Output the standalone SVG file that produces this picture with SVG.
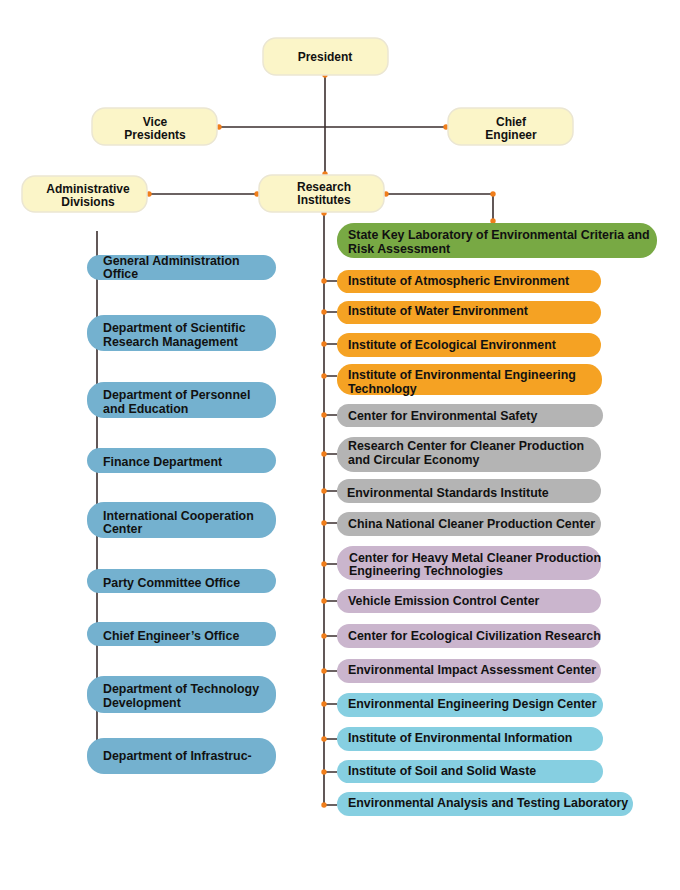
<svg xmlns="http://www.w3.org/2000/svg" width="680" height="890" viewBox="0 0 680 890">
<style>
.top{fill:#fbf5c8;stroke:#ebe6d2;stroke-width:1.5}
.t{font-family:"Liberation Sans",Arial,sans-serif;font-weight:bold;font-size:12.4px;fill:#111}
.tc{font-family:"Liberation Sans",Arial,sans-serif;font-weight:bold;font-size:12px;fill:#111;text-anchor:middle}
.blue{fill:#74b1cf}
.green{fill:#78a944}
.orange{fill:#f5a223}
.gray{fill:#b4b4b4}
.purple{fill:#cab5cd}
.lblue{fill:#86cfe1}
.ln{stroke:#3b2f2f;stroke-width:1.6;fill:none}
.dot{fill:#f07e1b}
</style>
<rect width="680" height="890" fill="#fff"/>
<g id="connectors">
<path class="ln" d="M325 75V174M219 127H446M149 194H257M386 194H493V222M324 213V805M97 231V740"/>
<path class="ln" d="M324 281H337M324 312H337M324 344H337M324 376H337M324 415H337M324 454H337M324 491H337M324 523H337M324 564H337M324 601H337M324 636H337M324 671H337M324 704H337M324 739H337M324 772H337M324 805H337"/>
<g class="dot">
<circle cx="325" cy="75" r="2.7"/><circle cx="325" cy="174" r="2.7"/>
<circle cx="219" cy="127" r="2.7"/><circle cx="446" cy="127" r="2.7"/>
<circle cx="149" cy="194" r="2.7"/><circle cx="257" cy="194" r="2.7"/>
<circle cx="386" cy="194" r="2.7"/><circle cx="493" cy="194" r="2.7"/>
<circle cx="493" cy="221" r="2.7"/><circle cx="324" cy="213" r="2.7"/>
<circle cx="324" cy="281" r="2.7"/><circle cx="324" cy="312" r="2.7"/><circle cx="324" cy="344" r="2.7"/><circle cx="324" cy="376" r="2.7"/>
<circle cx="324" cy="415" r="2.7"/><circle cx="324" cy="454" r="2.7"/><circle cx="324" cy="491" r="2.7"/><circle cx="324" cy="523" r="2.7"/>
<circle cx="324" cy="564" r="2.7"/><circle cx="324" cy="601" r="2.7"/><circle cx="324" cy="636" r="2.7"/><circle cx="324" cy="671" r="2.7"/>
<circle cx="324" cy="704" r="2.7"/><circle cx="324" cy="739" r="2.7"/><circle cx="324" cy="772" r="2.7"/><circle cx="324" cy="805" r="2.7"/>
</g>
</g>
<g id="president"><rect class="top" x="263" y="38" width="125" height="37" rx="13"/><text class="tc" x="325" y="61">President</text></g>
<g id="vice-presidents"><rect class="top" x="92" y="108" width="125" height="37" rx="13"/><text class="tc" x="155" y="126">Vice</text><text class="tc" x="155" y="138.5">Presidents</text></g>
<g id="chief-engineer"><rect class="top" x="448" y="108" width="125" height="37" rx="13"/><text class="tc" x="511" y="126">Chief</text><text class="tc" x="511" y="138.5">Engineer</text></g>
<g id="administrative-divisions"><rect class="top" x="22" y="176" width="125" height="36" rx="13"/><text class="tc" x="88" y="192.5">Administrative</text><text class="tc" x="88" y="206">Divisions</text></g>
<g id="research-institutes"><rect class="top" x="259" y="175" width="125" height="37" rx="13"/><text class="tc" x="324" y="191">Research</text><text class="tc" x="324" y="204">Institutes</text></g>

<g id="general-administration-office"><rect class="blue" x="87" y="255" width="189" height="25" rx="12.5"/><text class="t" x="103" y="265">General Administration</text><text class="t" x="103" y="278">Office</text></g>
<g id="dept-scientific-research"><rect class="blue" x="87" y="315" width="189" height="36" rx="17"/><text class="t" x="103" y="332">Department of Scientific</text><text class="t" x="103" y="346">Research Management</text></g>
<g id="dept-personnel"><rect class="blue" x="87" y="382" width="189" height="36" rx="17"/><text class="t" x="103" y="399">Department of Personnel</text><text class="t" x="103" y="413">and Education</text></g>
<g id="finance-department"><rect class="blue" x="87" y="448" width="189" height="25" rx="12.5"/><text class="t" x="103" y="466">Finance Department</text></g>
<g id="international-cooperation"><rect class="blue" x="87" y="502" width="189" height="36" rx="17"/><text class="t" x="103" y="520">International Cooperation</text><text class="t" x="103" y="533">Center</text></g>
<g id="party-committee-office"><rect class="blue" x="87" y="569" width="189" height="24" rx="12"/><text class="t" x="103" y="587">Party Committee Office</text></g>
<g id="chief-engineers-office"><rect class="blue" x="87" y="622" width="189" height="24" rx="12"/><text class="t" x="103" y="640">Chief Engineer’s Office</text></g>
<g id="dept-technology-development"><rect class="blue" x="87" y="676" width="189" height="37" rx="17"/><text class="t" x="103" y="693">Department of Technology</text><text class="t" x="103" y="707">Development</text></g>
<g id="dept-infrastructure"><rect class="blue" x="87" y="738" width="189" height="36" rx="17"/><text class="t" x="103" y="760">Department of Infrastruc-</text></g>

<g id="state-key-lab"><rect class="green" x="337" y="223" width="320" height="35" rx="17"/><text class="t" x="348" y="239">State Key Laboratory of Environmental Criteria and</text><text class="t" x="348" y="253">Risk Assessment</text></g>
<g id="inst-atmospheric"><rect class="orange" x="337" y="270" width="264" height="23" rx="11.5"/><text class="t" x="348" y="285">Institute of Atmospheric Environment</text></g>
<g id="inst-water"><rect class="orange" x="337" y="301" width="264" height="23" rx="11.5"/><text class="t" x="348" y="315">Institute of Water Environment</text></g>
<g id="inst-ecological"><rect class="orange" x="337" y="333" width="264" height="24" rx="12"/><text class="t" x="348" y="349">Institute of Ecological Environment</text></g>
<g id="inst-env-eng-tech"><rect class="orange" x="337" y="364" width="265" height="31" rx="15"/><text class="t" x="348" y="379">Institute of Environmental Engineering</text><text class="t" x="348" y="393">Technology</text></g>
<g id="center-env-safety"><rect class="gray" x="337" y="404" width="266" height="23" rx="11.5"/><text class="t" x="348" y="420">Center for Environmental Safety</text></g>
<g id="research-center-cleaner"><rect class="gray" x="337" y="437" width="264" height="35" rx="17"/><text class="t" x="348" y="450">Research Center for Cleaner Production</text><text class="t" x="348" y="464">and Circular Economy</text></g>
<g id="env-standards"><rect class="gray" x="337" y="479" width="264" height="24" rx="12"/><text class="t" x="347" y="497">Environmental Standards Institute</text></g>
<g id="china-national-cleaner"><rect class="gray" x="337" y="512" width="264" height="24" rx="12"/><text class="t" x="348" y="528">China National Cleaner Production Center</text></g>
<g id="heavy-metal"><rect class="purple" x="337" y="546" width="264" height="34" rx="16"/><text class="t" x="349" y="562">Center for Heavy Metal Cleaner Production</text><text class="t" x="349" y="575">Engineering Technologies</text></g>
<g id="vehicle-emission"><rect class="purple" x="337" y="589" width="264" height="24" rx="12"/><text class="t" x="348" y="605">Vehicle Emission Control Center</text></g>
<g id="ecological-civilization"><rect class="purple" x="337" y="624" width="264" height="24" rx="12"/><text class="t" x="348" y="640">Center for Ecological Civilization Research</text></g>
<g id="eia-center"><rect class="purple" x="337" y="659" width="264" height="24" rx="12"/><text class="t" x="348" y="674">Environmental Impact Assessment Center</text></g>
<g id="env-eng-design"><rect class="lblue" x="337" y="693" width="266" height="24" rx="12"/><text class="t" x="348" y="708">Environmental Engineering Design Center</text></g>
<g id="inst-env-info"><rect class="lblue" x="337" y="727" width="266" height="24" rx="12"/><text class="t" x="348" y="742">Institute of Environmental Information</text></g>
<g id="inst-soil"><rect class="lblue" x="337" y="760" width="266" height="23" rx="11.5"/><text class="t" x="348" y="775">Institute of Soil and Solid Waste</text></g>
<g id="env-analysis"><rect class="lblue" x="337" y="792" width="296" height="24" rx="12"/><text class="t" x="348" y="807">Environmental Analysis and Testing Laboratory</text></g>
</svg>
